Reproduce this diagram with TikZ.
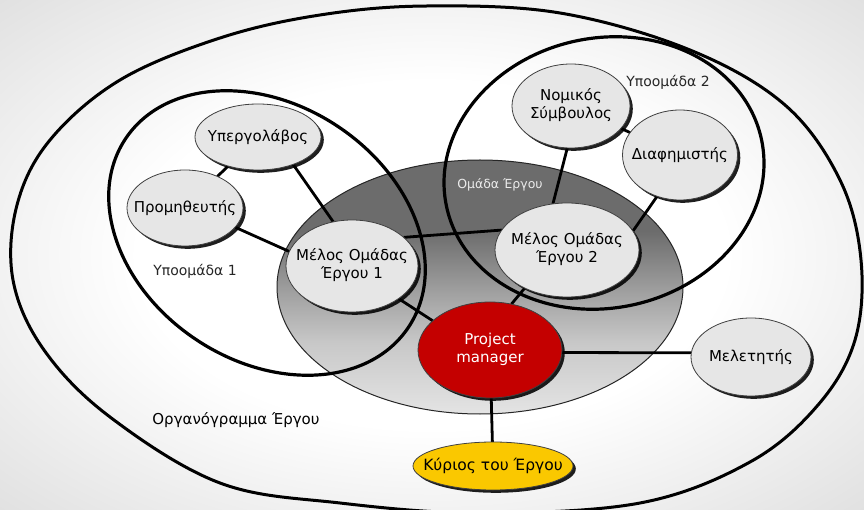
\documentclass[tikz,border=0pt]{standalone}
\usepackage{fontspec}
\setmainfont{DejaVu Sans}
\usetikzlibrary{shapes.geometric,shadows,backgrounds}
\definecolor{nodefill}{RGB}{230,230,230}
\definecolor{pmred}{RGB}{196,0,0}
\definecolor{ownyellow}{RGB}{250,200,0}
\definecolor{teamA}{RGB}{108,108,108}
\definecolor{teamB}{RGB}{160,160,160}
\definecolor{teamBB}{RGB}{200,200,200}
\definecolor{teamC}{RGB}{228,228,228}
\definecolor{bgedge}{RGB}{224,224,224}
\pgfdeclareverticalshading{teamshade}{100bp}{color(0bp)=(teamC); color(25bp)=(teamC); color(39bp)=(teamBB); color(49bp)=(teamB); color(61bp)=(teamA); color(75bp)=(teamA); color(100bp)=(teamA)}
\pgfdeclareradialshading{bgshade}{\pgfpoint{0bp}{0bp}}{color(0bp)=(white); color(17bp)=(white); color(36bp)=(bgedge); color(50bp)=(bgedge)}
\newcommand\onel[1]{\makebox[0pt]{#1}}
\newcommand\twol[2]{\makebox[0pt]{\begin{tabular}{@{}c@{}}#1\\#2\end{tabular}}}
\tikzset{
  memb/.style={ellipse, draw=black!75, line width=0.8pt, fill=nodefill, inner sep=0pt, outer sep=0pt,
    drop shadow={shadow xshift=2.8pt, shadow yshift=-2.8pt, fill=black, opacity=0.88},
    font=\fontsize{15}{17.5}\selectfont},
  link/.style={line width=2.8pt, black},
  grp/.style={line width=3.2pt, black},
  lbl/.style={inner sep=0pt, font=\fontsize{14}{17}\selectfont, text=black!85},
}
\begin{document}
\begin{tikzpicture}[x=1pt, y=-1pt]
\useasboundingbox (0,0) rectangle (864,510);
% nodes
\node[memb, minimum width=126pt, minimum height=66pt] (upr) at (258,137) {\onel{Υπεργολάβος}};
\node[memb, minimum width=116pt, minimum height=76pt] (prom) at (185,208) {\onel{Προμηθευτής}};
\node[memb, minimum width=132pt, minimum height=92pt] (m1) at (352,266) {\twol{Μέλος Ομάδας}{Έργου 1}};
\node[memb, minimum width=144pt, minimum height=94pt] (m2) at (567,250) {\twol{Μέλος Ομάδας}{Έργου 2}};
\node[memb, minimum width=118pt, minimum height=84pt] (nom) at (571,106) {\twol{Νομικός}{Σύμβουλος}};
\node[memb, minimum width=115pt, minimum height=90pt] (diaf) at (680,155) {\onel{Διαφημιστής}};
\node[memb, fill=pmred, text=white, minimum width=144pt, minimum height=96pt] (pm) at (490,350) {\twol{Project}{manager}};
\node[memb, minimum width=120pt, minimum height=78pt] (mel) at (751,357) {\onel{Μελετητής}};
\node[memb, fill=ownyellow, font=\fontsize{15.5}{18}\selectfont, minimum width=160pt, minimum height=48pt] (kyr) at (493,466) {\onel{Κύριος του Έργου}};
% labels
\node[lbl] (l1) at (195,271) {Υποομάδα 1};
\node[lbl] (l2) at (668,82) {Υποομάδα 2};
\node[lbl, font=\fontsize{12.5}{15}\selectfont, text=black!8] (lt) at (500,185) {Ομάδα Έργου};
\node[lbl, font=\fontsize{15}{18}\selectfont, text=black] (lo) at (236,420) {Οργανόγραμμα Έργου};
\begin{pgfonlayer}{background}
  \path[shading=bgshade] (0,0) rectangle (864,510);
  \draw[line width=3pt] plot[smooth cycle, tension=0.6] coordinates {
    (427,6) (560,13) (690,50) (785,105) (840,180) (861,260) (855,340) (818,405)
    (750,462) (640,503) (480,513) (340,503) (220,483) (110,417) (44,350) (13,280)
    (17,205) (50,140) (120,80) (220,38) (320,15)};
  \path[draw=black!85, line width=1pt, shading=teamshade] (480,287) circle [x radius=203, y radius=127];
  \draw[grp] (267,233) circle [x radius=170, y radius=128, rotate=-33.7];
  \draw[grp] (604,173) circle [x radius=161, y radius=135, rotate=12];
  % connectors
  \draw[link] (upr) -- (prom);
  \draw[link] (nom) -- (diaf);
  \draw[link] (upr.-38) -- (m1.113);
  \draw[link] (prom.-21) -- (m1.167);
  \draw[link] (m1.29) -- (m2.163);
  \draw[link] (nom.-95) -- (m2.107);
  \draw[link] (diaf.-119) -- (m2.16);
  \draw[link] (m1.-35) -- (pm.153);
  \draw[link] (m2.-138) -- (pm.65);
  \draw[link] (pm.-2) -- (mel.176);
  \draw[link] (pm) -- (kyr);
\end{pgfonlayer}
\end{tikzpicture}
\end{document}
